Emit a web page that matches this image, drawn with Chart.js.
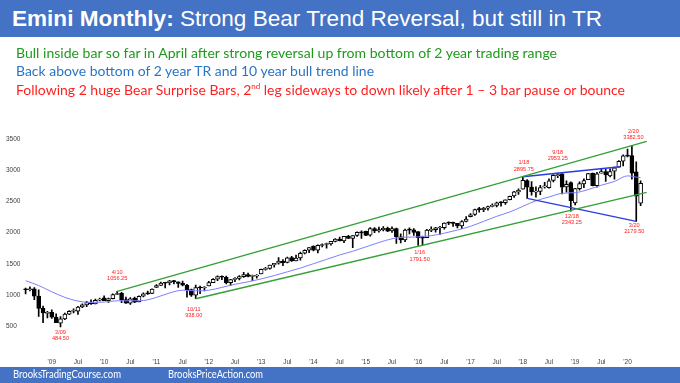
<!DOCTYPE html>
<html><head><meta charset="utf-8">
<script src="https://cdn.jsdelivr.net/npm/chart.js@4.4.1/dist/chart.umd.min.js"></script>
<style>
html,body{margin:0;padding:0;background:#fff;}
#wrap{position:relative;width:680px;height:383px;overflow:hidden;background:#fff;}
#c{position:absolute;left:0;top:0;width:680px;height:383px;}
.band{position:absolute;left:0;width:680px;background:#4472C4;}
#title{top:0;height:37px;}
#ttext{position:absolute;left:12px;top:8px;font-family:"Liberation Sans",Arial,sans-serif;font-size:22px;line-height:22px;color:#fff;white-space:nowrap;transform-origin:0 0;}
.sub{position:absolute;left:16px;font-family:Lato,"Open Sans",sans-serif;font-size:14px;line-height:18px;white-space:nowrap;transform-origin:0 0;}
.sub sup{font-size:8px;line-height:0;vertical-align:6px;}
#footer{top:367px;height:16px;}
.ft{position:absolute;top:-1px;font-family:Lato,sans-serif;font-size:12px;line-height:16px;color:#fff;white-space:nowrap;transform-origin:0 0;}
</style></head>
<body>
<div id="wrap">
<canvas id="c" width="680" height="383"></canvas>
<div class="band" id="title"><div id="ttext" data-w="590"><b>Emini Monthly:</b> Strong Bear Trend Reversal, but still in TR</div></div>
<div class="sub" style="top:44px;color:#1f9a1f" data-w="541">Bull inside bar so far in April after strong reversal up from bottom of 2 year trading range</div>
<div class="sub" style="top:62px;color:#2a74c6" data-w="358">Back above bottom of 2 year TR and 10 year bull trend line</div>
<div class="sub" style="top:80.5px;color:#ff1f1f" data-w="609">Following 2 huge Bear Surprise Bars, 2<sup>nd</sup> leg sideways to down likely after 1 – 3 bar pause or bounce</div>
<div class="band" id="footer">
  <div class="ft" style="left:12.7px" data-w="108">BrooksTradingCourse.com</div>
  <div class="ft" style="left:168.3px" data-w="95">BrooksPriceAction.com</div>
</div>
</div>
<script>
// Monthly bars, Jul 2008 .. Apr 2020 (index 0 = Jul 2008)
const open = [
1095,1082,1098,979,784,703,
721,644,548,615,691,737,738,805,838,873,854,916,
951,909,941,1006,1023,923,866,943,885,979,1020,1022,
1121,1152,1191,1192,1228,1208,1185,1155,1083,995,1114,1110,
1143,1197,1251,1293,1283,1195,1247,1264,1292,1326,1297,1301,
1336,1408,1425,1479,1507,1541,1519,1600,1546,1592,1668,1716,
1781,1718,1792,1808,1819,1859,1897,1865,1939,1906,1953,2000,
2019,1956,2065,2027,2048,2069,2028,2065,1930,1880,2041,2042,
2017,1916,1916,2036,2047,2073,2078,2153,2150,2147,2108,2180,
2256,2290,2386,2368,2393,2420,2436,2482,2479,2526,2588,2650,
2698,2832,2731,2648,2658,2733,2720,2837,2912,2941,2733,2800,
2476,2703,2780,2848,2953,2751,2953,2980,2909,2984,3050,3144,
3245,3236,2974,2470];
const high = [
1108,1128,1118,1079,822,734,
762,694,651,706,748,775,815,858,898,919,931,948,
985,947,1015,1056.25,1041,966,955,964,984,1031,1062,1097,
1166,1207,1195,1233,1234,1209,1220,1171,1093,1156,1140,1133,
1218,1263,1305,1307,1300,1248,1277,1311,1360,1350,1319,1324,
1414,1441,1480,1507,1597,1565,1608,1620,1640,1686,1723,1759,
1785,1802,1819,1832,1860,1903,1926,1940,1954,1953,2010,2028,
2024,2079,2078,2086,2095,2089,2092,2073,1981,2054,2077,2064,
2017,1942,2051,2090,2082,2100,2157,2173,2167,2148,2193,2257,
2306,2376,2406,2403,2423,2459,2489,2496,2525,2587,2662,2700,
2895.75,2851,2817,2733,2758,2806,2863,2932,2953.25,2945,2830,2815,
2708,2813,2860,2949,2955,2965,3028,3014,3022,3050,3154,3247,
3338,3382.5,3136,2830];
const low = [
1015,1063,922,655,556,630,
623,553,484.5,601,684,710,688,796,810,847,854,903,
906,880,937,1005,875,863,846,875,885,967,1008,1021,
1120,1152,1112,1158,1174,1121,1145,964,977,938,1021,1065,
1143,1197,1226,1242,1177,1152,1210,1240,1282,1288,1228,1270,
1336,1395,1411,1446,1491,1470,1514,1537,1543,1557,1657,1677,
1705,1672,1769,1750,1798,1850,1865,1839,1900,1756,1936,1907,
1948,1941,1999,2008,2027,2016,2004,1827,1832,1853,1979,1953,
1791.5,1795,1916,2013,2005,1971,2054,2127,2099,2076,2063,2172,
2250,2276,2327,2334,2358,2410,2412,2422,2451,2525,2562,2610,
2698,2548,2601,2568,2609,2713,2714,2811,2879,2618,2646,2343.25,
2443,2681,2722,2848,2750,2728,2952,2822,2892,2855,3050,3070,
3214,2855,2179.5,2430];
const close = [
1082,1098,981,784,711,718,
644,553,616,691,737,737,805,839,875,854,914,933,
909,939,1004,1022,924,866,937,884,976,1018,1016,1093,
1149,1190,1189,1227,1208,1184,1155,1082,994,1116,1110,1121,
1197,1251,1293,1283,1195,1247,1264,1292,1326,1297,1301,1311,
1408,1425,1479,1508,1541,1516,1596,1543,1592,1667,1716,1758,
1718,1794,1807,1819,1859,1895,1866,1938,1907,1953,2003,1994,
1955,2065,2028,2046,2067,2023,2064,1932,1880,2039,2040,2004,
1919,1911,2039,2044,2076,2078,2153,2150,2147,2105,2178,2218,
2284,2369,2368,2389,2417,2428,2475,2477,2524,2580,2653,2679,
2839,2729,2656,2663,2720,2733,2831,2917,2929,2727,2775,2510,
2704,2784,2834,2946,2752,2942,2980,2926,2977,3038,3141,3231,
3226,2954,2585,2790];

// moving average (month index, value)
const maMonth = [0,3,6,9,12,15,18,21,24,27,30,33,36,39,42,45,48,51,54,57,60,63,66,69,72,75,78,81,84,87,90,93,96,99,102,105,108,111,114,117,120,123,126,129,132,135,138,140,141];
const maValue = [1227,1150,1050,960,900,880,885,905,905,910,960,1030,1075,1065,1075,1120,1170,1210,1255,1310,1370,1430,1500,1570,1640,1700,1770,1840,1900,1925,1930,1950,1990,2040,2100,2180,2260,2330,2420,2510,2570,2630,2640,2690,2760,2820,2910,2890,2880];

// trend lines (month index, price)
const greenUpper = [[21,1056.25],[142.4,3464]];
const greenLower = [[39,938],[142.4,2645]];
const blueUpper = [[114,2895.75],[136.3,3056]];
const blueLower = [[115,2548],[140,2179.5]];

// annotations
const annotDates = ['3/09','4/10','10/11','1/16','1/18','9/18','12/18','2/20','3/20'];
const annotValues = ['484.50','1056.25','938.00','1791.50','2895.75','2953.25','2343.25','3382.50','2179.50'];
const annotMonth = [8,21,39,90,114,122,125,139,140];
const annotSide = ['low','high','low','low','high','high','low','high','low'];

// axis labels
const xTickLabels = ["'09","Jul","'10","Jul","'11","Jul","'12","Jul","'13","Jul","'14","Jul","'15","Jul","'16","Jul","'17","Jul","'18","Jul","'19","Jul","'20"];
const yTickValues = [500,1000,1500,2000,2500,3000,3500];

// label placement (style)
const annotDy = [5.3,-19.1,10.3,7.2,-14,-20.8,4.9,-15.4,3.6];
const annotDx = [0,0,-2,1.5,1,0,1,1.5,-2];

const xTickMonths = xTickLabels.map((_, k) => 6 + 6 * k);
const toPts = arr => arr.map(p => ({x: p[0], y: p[1]}));

const bodies = open.map((o, i) => ({x: i, y: [o, close[i]]}));
const wicks = open.map((o, i) => ({x: i, y: [low[i], high[i]]}));
const maPts = maMonth.map((m, k) => ({x: m, y: maValue[k]}));

const annPlugin = {
  id: 'ann',
  afterDatasetsDraw(chart) {
    const {ctx, scales: {x, y}} = chart;
    ctx.save();
    ctx.font = '5.6px "Liberation Sans", Arial, sans-serif';
    ctx.fillStyle = '#ff2020';
    ctx.textAlign = 'center';
    ctx.textBaseline = 'middle';
    annotMonth.forEach((m, k) => {
      const v = annotSide[k] === 'high' ? high[m] : low[m];
      const px = x.getPixelForValue(m) + annotDx[k];
      const py = y.getPixelForValue(v) + annotDy[k];
      ctx.fillText(annotDates[k], px, py);
      ctx.fillText(annotValues[k], px, py + 6.3);
    });
    ctx.restore();
  }
};

const lineDs = (pts, color, w, order) => ({type: 'line', data: pts, borderColor: color, borderWidth: w, pointRadius: 0, fill: false, order: order, tension: 0});

new Chart(document.getElementById('c'), {
  type: 'bar',
  data: {
    datasets: [
      lineDs(toPts(greenUpper), '#35a035', 1.4, 0),
      lineDs(toPts(greenLower), '#35a035', 1.4, 0),
      lineDs(toPts(blueUpper), '#2a3be0', 1.4, 0),
      lineDs(toPts(blueLower), '#2a3be0', 1.4, 0),
      {type: 'line', data: maPts, borderColor: '#7d7dff', borderWidth: 1, pointRadius: 0, fill: false, order: 1, tension: 0.4, cubicInterpolationMode: 'monotone'},
      {type: 'bar', data: bodies, order: 2, grouped: false, barThickness: 4, minBarLength: 1,
        backgroundColor: ctx => close[ctx.dataIndex] >= open[ctx.dataIndex] ? '#ffffff' : '#000000',
        borderColor: '#000000', borderWidth: 1, borderSkipped: false},
      {type: 'bar', data: wicks, order: 3, grouped: false, barThickness: 1, backgroundColor: '#000000', borderWidth: 0}
    ]
  },
  options: {
    responsive: false,
    animation: false,
    devicePixelRatio: 1,
    layout: {autoPadding: false, padding: {left: 6, right: 26.3, top: 107.9, bottom: 0}},
    plugins: {legend: {display: false}, tooltip: {enabled: false}},
    scales: {
      x: {
        type: 'linear', min: -1, max: 144, offset: false,
        grid: {display: false, drawTicks: false}, border: {display: false},
        afterBuildTicks: s => { s.ticks = xTickMonths.map(v => ({value: v})); },
        afterFit: s => { s.height = 25.8; },
        ticks: {autoSkip: false, maxRotation: 0, padding: 1.5, color: '#404040',
          font: {family: '"Liberation Sans", Arial, sans-serif', size: 6.5},
          callback: (v, i) => xTickLabels[i]}
      },
      y: {
        min: 0, max: 4000,
        grid: {display: false, drawTicks: false}, border: {display: false},
        afterBuildTicks: s => { s.ticks = yTickValues.map(v => ({value: v})); },
        afterFit: s => { s.width = 15.24; },
        ticks: {crossAlign: 'far', padding: 1, color: '#404040',
          font: {family: '"Liberation Sans", Arial, sans-serif', size: 6.5},
          callback: v => String(v)}
      }
    }
  },
  plugins: [annPlugin]
});

function fitTexts() {
  document.querySelectorAll('[data-w]').forEach(el => {
    el.style.transform = 'none';
    const w = el.getBoundingClientRect().width;
    const t = parseFloat(el.getAttribute('data-w'));
    if (w > 0) el.style.transform = 'scaleX(' + (t / w) + ')';
  });
}
fitTexts();
if (document.fonts && document.fonts.ready) document.fonts.ready.then(fitTexts);
</script>
</body></html>
